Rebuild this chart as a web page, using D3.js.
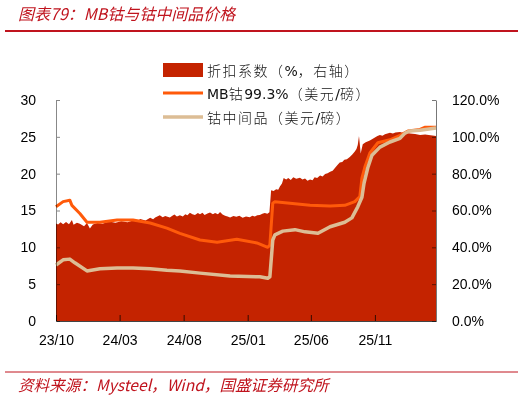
<!DOCTYPE html>
<html>
<head>
<meta charset="utf-8">
<script src="https://cdn.jsdelivr.net/npm/d3@7"></script>
<style>
  body { margin: 0; background: #fff; }
  svg { display: block; }
  .axis { mix-blend-mode: multiply; }
</style>
</head>
<body>
<script>
// 折扣系数 (%), right axis
var discount = [
  ['2023-10-01', 53], ['2023-10-06', 52.4], ['2023-10-12', 53.6], ['2023-10-18', 52.6],
  ['2023-10-25', 53.8], ['2023-11-01', 52.5], ['2023-11-08', 54.8], ['2023-11-12', 52.2],
  ['2023-11-20', 53.4], ['2023-11-27', 52.8], ['2023-12-07', 51.5], ['2023-12-14', 53.2],
  ['2023-12-21', 50.2], ['2023-12-28', 52.4], ['2024-01-08', 53.2], ['2024-01-20', 52.8],
  ['2024-02-05', 54], ['2024-02-20', 53.4], ['2024-03-05', 54.2], ['2024-03-20', 53.6],
  ['2024-04-02', 54.6], ['2024-04-12', 54], ['2024-04-19', 55.4], ['2024-05-02', 54.6],
  ['2024-05-13', 56], ['2024-05-20', 55.2], ['2024-05-25', 56.2], ['2024-06-05', 57.4],
  ['2024-06-12', 56.4], ['2024-06-18', 57], ['2024-06-29', 56.2], ['2024-07-05', 57.2],
  ['2024-07-10', 57.8], ['2024-07-16', 56.8], ['2024-07-23', 57.4], ['2024-07-30', 56.8],
  ['2024-08-05', 58], ['2024-08-10', 57.4], ['2024-08-16', 58.8], ['2024-08-22', 58],
  ['2024-08-28', 57.6], ['2024-09-04', 58.6], ['2024-09-09', 58], ['2024-09-15', 58.8],
  ['2024-09-20', 57.6], ['2024-09-27', 58.4], ['2024-10-03', 58.9], ['2024-10-10', 58],
  ['2024-10-15', 58.6], ['2024-10-22', 58], ['2024-10-27', 59.2], ['2024-11-02', 57.8],
  ['2024-11-08', 57.2], ['2024-11-14', 56.8], ['2024-11-20', 56.2], ['2024-11-28', 57],
  ['2024-12-05', 56.6], ['2024-12-12', 57.2], ['2024-12-20', 56], ['2024-12-28', 56.8],
  ['2025-01-06', 56.4], ['2025-01-12', 57.2], ['2025-01-18', 56.8], ['2025-01-24', 57.4],
  ['2025-01-30', 57.6], ['2025-02-05', 58.2], ['2025-02-11', 58.6], ['2025-02-17', 58.2],
  ['2025-02-22', 59], ['2025-02-26', 71], ['2025-03-04', 70.6], ['2025-03-10', 71.6],
  ['2025-03-15', 71.2], ['2025-03-19', 73], ['2025-03-24', 74.6], ['2025-03-28', 77.6],
  ['2025-04-03', 76.8], ['2025-04-08', 77.6], ['2025-04-14', 76.6], ['2025-04-20', 78],
  ['2025-04-27', 77.2], ['2025-05-06', 77.8], ['2025-05-12', 76.8], ['2025-05-18', 77.4],
  ['2025-05-24', 76.2], ['2025-05-30', 76.8], ['2025-06-05', 76.4], ['2025-06-10', 78],
  ['2025-06-16', 77.6], ['2025-06-23', 79], ['2025-06-29', 78.4], ['2025-07-05', 79.8],
  ['2025-07-11', 80.2], ['2025-07-17', 81], ['2025-07-23', 81.6], ['2025-07-28', 83],
  ['2025-08-03', 84.6], ['2025-08-09', 86], ['2025-08-15', 86.4], ['2025-08-20', 87.6],
  ['2025-08-26', 87.8], ['2025-09-02', 89], ['2025-09-08', 90.4], ['2025-09-14', 92],
  ['2025-09-18', 93.4], ['2025-09-21', 95.6], ['2025-09-24', 100.5], ['2025-09-26', 96],
  ['2025-09-28', 91], ['2025-10-03', 96], ['2025-10-10', 97], ['2025-10-20', 98],
  ['2025-11-01', 99.6], ['2025-11-07', 100.4], ['2025-11-13', 101], ['2025-11-19', 100.6],
  ['2025-11-25', 101.4], ['2025-12-01', 101.8], ['2025-12-07', 102.2], ['2025-12-14', 101.8],
  ['2025-12-20', 102.4], ['2025-12-31', 102.6], ['2026-01-06', 102.2], ['2026-01-12', 102.4],
  ['2026-01-24', 101.8], ['2026-02-05', 101.6], ['2026-02-17', 101], ['2026-03-01', 101.2],
  ['2026-03-14', 100.8], ['2026-03-27', 100.5]
];

// MB钴99.3% (美元/磅)
var mbCobalt = [
  ['2023-10-01', 15.5], ['2023-10-18', 16.2], ['2023-11-03', 16.4], ['2023-11-08', 15.7],
  ['2023-11-27', 14.6], ['2023-12-14', 13.4], ['2024-01-14', 13.4], ['2024-02-24', 13.7],
  ['2024-04-02', 13.7], ['2024-05-13', 13.3], ['2024-06-22', 12.6], ['2024-07-23', 11.9],
  ['2024-09-09', 11.0], ['2024-10-20', 10.7], ['2024-12-06', 11.1], ['2025-01-23', 10.6],
  ['2025-02-18', 10.0], ['2025-02-23', 10.3], ['2025-03-02', 16.0], ['2025-03-07', 16.2],
  ['2025-04-12', 16.0], ['2025-05-30', 15.7], ['2025-07-17', 15.6], ['2025-08-21', 15.7],
  ['2025-09-14', 16.2], ['2025-09-26', 16.9], ['2025-10-01', 19.4], ['2025-10-08', 20.9],
  ['2025-10-20', 22.8], ['2025-11-08', 24.2], ['2025-12-07', 24.6], ['2025-12-31', 25.2],
  ['2026-01-19', 25.8], ['2026-02-17', 26.0], ['2026-02-28', 26.3], ['2026-03-27', 26.3]
];

// 钴中间品 (美元/磅)
var intermediate = [
  ['2023-10-01', 7.6], ['2023-10-18', 8.3], ['2023-11-03', 8.4], ['2023-11-15', 7.9],
  ['2023-12-14', 6.8], ['2024-01-14', 7.1], ['2024-02-24', 7.2], ['2024-04-02', 7.2],
  ['2024-05-13', 7.1], ['2024-06-22', 6.9], ['2024-07-23', 6.8], ['2024-09-09', 6.5],
  ['2024-11-20', 6.1], ['2025-01-30', 6.0], ['2025-02-18', 5.8], ['2025-02-23', 6.0],
  ['2025-03-02', 11.0], ['2025-03-07', 11.7], ['2025-03-26', 12.2], ['2025-04-24', 12.4],
  ['2025-05-18', 12.1], ['2025-06-18', 11.9], ['2025-07-17', 12.8], ['2025-08-21', 13.4],
  ['2025-09-07', 14.0], ['2025-09-21', 15.5], ['2025-10-01', 16.8], ['2025-10-06', 18.7],
  ['2025-10-15', 20.8], ['2025-10-25', 22.5], ['2025-11-13', 23.6], ['2025-12-07', 24.3],
  ['2025-12-31', 24.8], ['2026-01-12', 25.5], ['2026-01-24', 25.8], ['2026-02-17', 25.9],
  ['2026-03-27', 26.2]
];

var xTicks = ['2023-10-01', '2024-03-01', '2024-08-01', '2025-01-01', '2025-06-01', '2025-11-01'];
var leftTicks = [0, 5, 10, 15, 20, 25, 30];
var rightTicks = [0, 20, 40, 60, 80, 100, 120];
var legendLabels = ['折扣系数（%，右轴）', 'MB钴99.3%（美元/磅）', '钴中间品（美元/磅）'];

var colors = { area: '#c42300', mb: '#ff5a0a', mid: '#dcbd95', red: '#c0141e' };

var parse = d3.timeParse('%Y-%m-%d');
var W = 526, H = 399;
var plot = { left: 56, right: 436, top: 100, bottom: 321 };

var svg = d3.select('body').append('svg')
  .attr('width', W).attr('height', H)
  .style('font-family', '"DejaVu Sans", "Noto Sans CJK SC", sans-serif');

var x = d3.scaleTime()
  .domain([parse('2023-10-01'), parse('2026-03-27')])
  .range([plot.left, plot.right]);
var yL = d3.scaleLinear().domain([0, 30]).range([plot.bottom, plot.top]);
var yR = d3.scaleLinear().domain([0, 120]).range([plot.bottom, plot.top]);

// header / footer
svg.append('text')
  .attr('x', 18).attr('y', 20)
  .attr('fill', colors.red)
  .style('font-style', 'italic')
  .style('font-size', '16px')
  .style('font-family', '"Noto Sans CJK SC", sans-serif')
  .text('图表79：MB钴与钴中间品价格');
svg.append('line')
  .attr('x1', 5).attr('x2', 518).attr('y1', 31).attr('y2', 31)
  .attr('stroke', colors.red).attr('stroke-width', 2);
svg.append('line')
  .attr('x1', 5).attr('x2', 518).attr('y1', 372).attr('y2', 372)
  .attr('stroke', colors.red).attr('stroke-width', 1);
svg.append('text')
  .attr('x', 18).attr('y', 391)
  .attr('fill', colors.red)
  .style('font-style', 'italic')
  .style('font-size', '15.6px')
  .style('font-family', '"Noto Sans CJK SC", sans-serif')
  .text('资料来源：Mysteel，Wind，国盛证券研究所');

// series
var area = d3.area()
  .x(function (d) { return x(parse(d[0])); })
  .y0(yR(0))
  .y1(function (d) { return yR(d[1]); });

svg.append('path')
  .datum(discount)
  .attr('d', area)
  .attr('fill', colors.area);

var line = d3.line()
  .x(function (d) { return x(parse(d[0])); })
  .y(function (d) { return yL(d[1]); });

svg.append('path')
  .datum(mbCobalt)
  .attr('d', line)
  .attr('fill', 'none')
  .attr('stroke', colors.mb)
  .attr('stroke-width', 3)
  .attr('stroke-linejoin', 'round');

svg.append('path')
  .datum(intermediate)
  .attr('d', line)
  .attr('fill', 'none')
  .attr('stroke', colors.mid)
  .attr('stroke-width', 3.5)
  .attr('stroke-linejoin', 'round');

// axes
function styleAxis(g, color) {
  g.attr('class', 'axis');
  g.selectAll('path, line').attr('stroke', color);
  g.selectAll('text')
    .attr('fill', '#000')
    .style('font-size', '14px');
}

svg.append('g')
  .attr('transform', 'translate(' + plot.left + ',0)')
  .call(d3.axisLeft(yL).tickValues(leftTicks).tickSize(-4).tickSizeOuter(0).tickPadding(20))
  .call(styleAxis, '#888');

svg.append('g')
  .attr('transform', 'translate(' + plot.right + ',0)')
  .call(d3.axisRight(yR).tickValues(rightTicks).tickSize(-4).tickSizeOuter(0).tickPadding(16)
    .tickFormat(function (d) { return d.toFixed(1) + '%'; }))
  .call(styleAxis, '#777');

svg.append('g')
  .attr('transform', 'translate(0,' + plot.bottom + ')')
  .call(d3.axisBottom(x).tickValues(xTicks.map(parse)).tickSize(-6).tickSizeOuter(0).tickPadding(14)
    .tickFormat(d3.timeFormat('%y/%m')))
  .call(styleAxis, '#444');

// legend
var legend = svg.append('g').attr('transform', 'translate(163,0)');
var rows = [70, 93, 117];

legend.append('rect')
  .attr('x', 0).attr('y', rows[0] - 7).attr('width', 40).attr('height', 14)
  .attr('fill', colors.area);
legend.append('line')
  .attr('x1', 0).attr('x2', 40).attr('y1', rows[1]).attr('y2', rows[1])
  .attr('stroke', colors.mb).attr('stroke-width', 3);
legend.append('line')
  .attr('x1', 0).attr('x2', 40).attr('y1', rows[2]).attr('y2', rows[2])
  .attr('stroke', colors.mid).attr('stroke-width', 3.5);

// CJK runs are lighter and spaced a little wider than latin runs, as in the original
legend.selectAll('text.lab')
  .data(legendLabels)
  .enter()
  .append('text')
  .attr('class', 'lab')
  .attr('x', 44)
  .attr('y', function (d, i) { return rows[i] + 6; })
  .style('font-size', '14px')
  .attr('fill', '#111')
  .each(function (d) {
    var t = d3.select(this);
    d.match(/[\x00-\x7f]+|[^\x00-\x7f]+/g).forEach(function (run) {
      var latin = /^[\x00-\x7f]/.test(run);
      t.append('tspan')
        .style('letter-spacing', latin ? '0px' : '1.5px')
        .style('font-weight', latin ? 400 : 300)
        .text(run);
    });
  });
</script>
</body>
</html>
